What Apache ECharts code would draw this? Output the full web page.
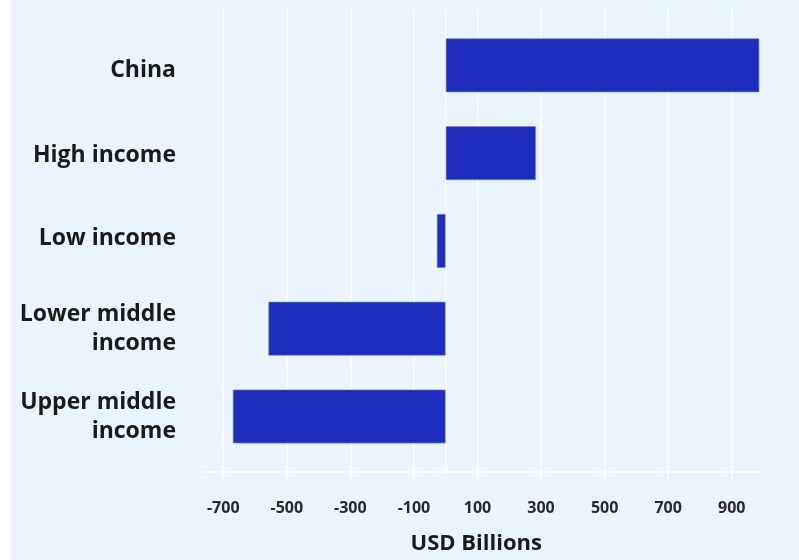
<!DOCTYPE html>
<html>
<head>
<meta charset="utf-8">
<script src="https://cdn.jsdelivr.net/npm/echarts@6/dist/echarts.min.js"></script>
<style>
  html, body { margin: 0; padding: 0; background: #ffffff; }
  #panel { position: absolute; left: 11px; top: 0; width: 788px; height: 560px; background: #eaf4fd; }
  #chart { position: absolute; left: 0; top: 0; width: 799px; height: 560px; }
</style>
</head>
<body>
<div id="panel"></div>
<div id="chart"></div>
<script>
// Net flows by income group, USD billions
const categories = ['China', 'High income', 'Low income', 'Lower middle\nincome', 'Upper middle\nincome'];
const values = [987, 284, -28, -558, -670];
const xTicks = [-700, -500, -300, -100, 100, 300, 500, 700, 900];

const X_MIN = -770;
const X_MAX = 1000;
const FONT = '"Open Sans", "Noto Sans", sans-serif';
const GRID_LEFT = 201;
const GRID_RIGHT = 35.5;

// category label text style, with a small vertical nudge per row
const labelBase = { fontFamily: FONT, fontWeight: 'bold', fontSize: 23, lineHeight: 29, color: '#1a1a1a', align: 'right' };
const labelRich = {
  r0: Object.assign({}, labelBase, { padding: [10, 0, 0, 0] }),
  r1: Object.assign({}, labelBase, { padding: [4, 0, 0, 0] }),
  r2: Object.assign({}, labelBase, { padding: [0, 0, 4, 0] }),
  r3: Object.assign({}, labelBase),
  r4: Object.assign({}, labelBase)
};

const chart = echarts.init(document.getElementById('chart'), null, { renderer: 'canvas' });

chart.setOption({
  backgroundColor: 'transparent',
  animation: false,
  grid: [
    // frame: gridlines, ticks and tick labels
    { left: GRID_LEFT, right: GRID_RIGHT, top: 8, bottom: 86 },
    // bars and category labels
    { left: GRID_LEFT, right: GRID_RIGHT, top: 21.4, height: 439 }
  ],
  xAxis: [
    {
      gridIndex: 0,
      type: 'value',
      min: X_MIN,
      max: X_MAX,
      name: 'USD Billions',
      nameLocation: 'middle',
      nameGap: 61,
      nameTextStyle: {
        fontFamily: FONT,
        fontWeight: 'bold',
        fontSize: 22,
        color: '#1a1a1a',
        padding: [0, 12, 0, 0]
      },
      axisLine: { show: true, lineStyle: { color: '#ffffff', width: 1.5 } },
      axisTick: { show: true, customValues: xTicks, length: 8, lineStyle: { color: '#ffffff', width: 1.5 } },
      axisLabel: {
        customValues: xTicks,
        margin: 28,
        fontFamily: FONT,
        fontWeight: 'bold',
        fontSize: 16,
        color: '#2a2a2a'
      },
      splitLine: { show: true, lineStyle: { color: '#ffffff', width: 1.5 } }
    },
    {
      gridIndex: 1,
      type: 'value',
      min: X_MIN,
      max: X_MAX,
      show: false,
      splitLine: { show: false }
    }
  ],
  yAxis: [
    {
      gridIndex: 0,
      type: 'value',
      min: 0,
      max: 1,
      axisLine: { show: true, lineStyle: { color: '#ffffff', width: 1.5 } },
      axisTick: { show: false },
      axisLabel: { show: false },
      splitLine: { show: false }
    },
    {
      gridIndex: 1,
      type: 'category',
      data: categories,
      inverse: true,
      axisLine: { show: false },
      axisTick: { show: false },
      splitLine: { show: false },
      axisLabel: Object.assign({}, labelBase, {
        margin: 25,
        formatter: function (value, index) {
          return value.split('\n').map(function (line) { return '{r' + index + '|' + line + '}'; }).join('\n');
        },
        rich: labelRich
      })
    }
  ],
  series: [
    {
      type: 'bar',
      xAxisIndex: 1,
      yAxisIndex: 1,
      data: values,
      barCategoryGap: '38.5%',
      itemStyle: { color: '#1e2dbe', borderColor: 'rgba(120,130,225,0.8)', borderWidth: 0.8 }
    }
  ]
});
</script>
</body>
</html>
